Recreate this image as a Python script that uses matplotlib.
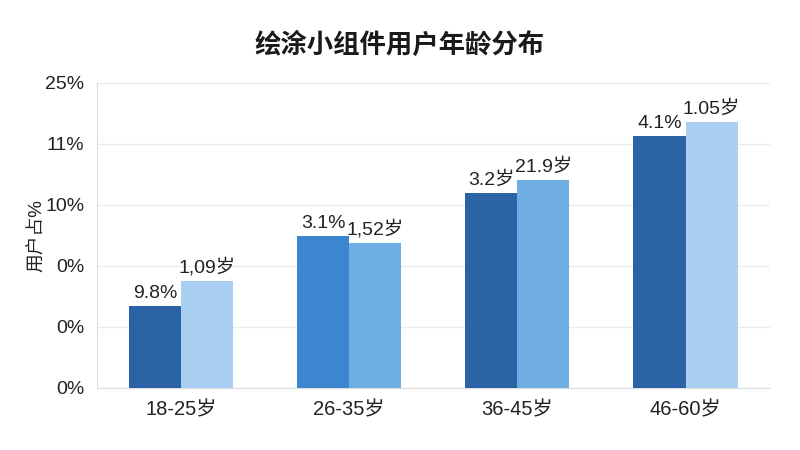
import matplotlib
matplotlib.use('Agg')
import matplotlib.pyplot as plt
import numpy as np

plt.rcParams['font.family'] = ['Liberation Sans', 'Noto Sans CJK SC', 'DejaVu Sans']

# 数据（刻度标签按原图，位置等距）
categories = ['18-25岁', '26-35岁', '36-45岁', '46-60岁']
series_a = [1.34, 2.49, 3.20, 4.13]
series_b = [1.75, 2.38, 3.41, 4.36]
labels_a = ['9.8%', '3.1%', '3.2岁', '4.1%']
labels_b = ['1,09岁', '1,52岁', '21.9岁', '1.05岁']
ytick_labels = ['0%', '0%', '0%', '10%', '11%', '25%']

colors_a = ['#2a62a5', '#3d86cf', '#2b63a7', '#2a63a6']
colors_b = ['#a8cff1', '#6eaee4', '#70ade3', '#a9d0f1']

fig = plt.figure(figsize=(8, 4.5), dpi=100)
ax = fig.add_axes([0.121, 0.138, 0.841, 0.678])

x = np.arange(len(categories))
width = 0.31

bars_a = ax.bar(x - width / 2, series_a, width, color=colors_a, zorder=3)
bars_b = ax.bar(x + width / 2, series_b, width, color=colors_b, zorder=3)

for bars, labels in ((bars_a, labels_a), (bars_b, labels_b)):
    for b, lab in zip(bars, labels):
        ax.annotate(lab, (b.get_x() + b.get_width() / 2, b.get_height()),
                    xytext=(0, 3), textcoords='offset points',
                    ha='center', va='bottom', fontsize=14, color='#222222')

ax.set_xlim(-0.5, 3.5)
ax.set_ylim(0, 5)
ax.set_xticks(x)
ax.set_xticklabels(categories, fontsize=14.5, color='#222222')
ax.set_yticks(np.arange(len(ytick_labels)))
ax.set_yticklabels(ytick_labels, fontsize=14, color='#222222')
ax.tick_params(length=0, pad=9)
ax.grid(axis='y', color='#ececec', linewidth=1, zorder=0)

for s in ['top', 'right']:
    ax.spines[s].set_visible(False)
for s in ['left', 'bottom']:
    ax.spines[s].set_color('#dddddd')

ax.set_ylabel('用户占%', fontsize=13.5, color='#222222', labelpad=0)
fig.text(0.5, 0.9, '绘涂小组件用户年龄分布', ha='center', va='center',
         fontsize=19, fontweight='bold', color='#1a1a1a')

fig.savefig('out.png', dpi=100)
